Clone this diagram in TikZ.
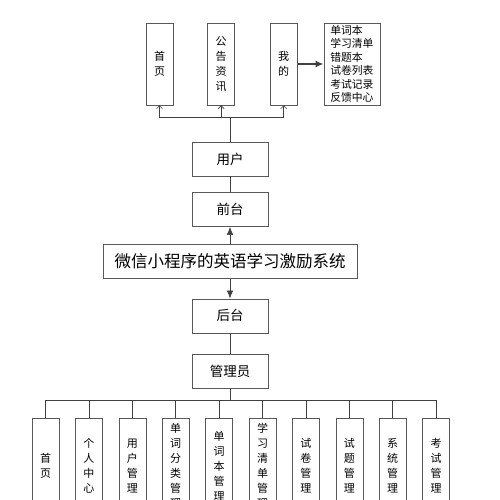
\documentclass[tikz,border=0pt]{standalone}
\usepackage{fontspec}
\setmainfont{Noto Sans CJK SC}
\usetikzlibrary{arrows.meta,
                positioning}
\definecolor{boxgray}{gray}{0.35}
\definecolor{linegray}{gray}{0.25}
\newcommand\vtextfont{\fontsize{11}{15}\selectfont}

\begin{document}
\begin{tikzpicture}[x=1pt, y=-1pt,
node distance = 17pt,
   box/.style = {rectangle, draw=boxgray, semithick, inner sep=0pt,
                 minimum width=76pt, minimum height=34pt,
                 font=\fontsize{13.5}{16}\selectfont},
  tall/.style = {rectangle, draw=boxgray, semithick, inner sep=0pt,
                 minimum width=27pt, minimum height=#1,
                 align=center, font=\vtextfont},
  list/.style = {rectangle, draw=boxgray, semithick,
                 text width=43pt, inner xsep=6.5pt, inner ysep=0pt,
                 minimum height=82pt, align=left,
                 font=\fontsize{10.8}{13.5}\selectfont},
  line/.style = {draw=linegray, semithick},
                        ]
\useasboundingbox (0,0) rectangle (500,500);
\fill[white] (0,0) rectangle (500,500);
\clip (0,0) rectangle (500,500);
% top row
\node[tall=82pt] (home) at (159.5,64) {首\\页};
\node[tall=82pt, right=34pt of home] (news) {公\\告\\资\\讯};
\node[tall=82pt, right=35pt of news] (mine) {我\\的};
\node[list, right=26pt of mine] (mine list)
        {单词本\\学习清单\\错题本\\试卷列表\\考试记录\\反馈中心};
% centre column
\node[box] (user) at (230,159) {用户};
\node[box, below=16pt of user] (front) {前台};
\node[box, minimum width=254pt, font=\fontsize{16.5}{18}\selectfont,
      below=of front] (sys) {微信小程序的英语学习激励系统};
\node[box, below=20pt of sys] (back) {后台};
\node[box, below=21pt of back] (admin) {管理员};
% bottom row
\foreach \t [count=\i from 0] in {{首\\页},{个\\人\\中\\心},{用\\户\\管\\理},
        {单\\词\\分\\类\\管\\理},{单\\词\\本\\管\\理},{学\\习\\清\\单\\管\\理},
        {试\\卷\\管\\理},{试\\题\\管\\理},{系\\统\\管\\理},{考\\试\\管\\理}}
    \node[tall=96pt] (B-\i) at ({45.5+43.4*\i},466) {\t};
% connectors
\draw[line] (user) -- (front);
\draw[line, -{Latex[length=8pt, width=6.5pt]}] (sys) -- (front);
\draw[line, -{Latex[length=8pt, width=6.5pt]}] (sys) -- (back);
\draw[line] (back) -- (admin);
\draw[line, line width=1.4pt, -{Latex[length=8pt, width=7pt]}] (mine) -- (mine list);
\draw[line] (user.north) -- ++(0,-24) coordinate (top bus);
\foreach \n in {home,news,mine}
    \draw[line, -{Straight Barb[length=3pt, width=6pt]}] (top bus) -| (\n.south);
\draw[line] (admin.south) -- ++(0,12) coordinate (bottom bus);
\foreach \i in {0,...,9}
    \draw[line] (bottom bus) -| (B-\i.north);
\end{tikzpicture}
\end{document}
